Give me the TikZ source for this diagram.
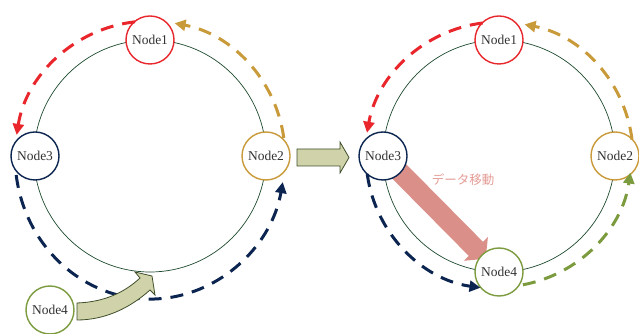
\documentclass[tikz,border=0pt]{standalone}
\usepackage{fontspec}
\setmainfont{Liberation Serif}
\newfontfamily\jpfont{Noto Sans CJK JP}
\usetikzlibrary{arrows.meta,calc}
\definecolor{cred}{HTML}{E8262B}
\definecolor{cgold}{HTML}{C99A3A}
\definecolor{cnavy}{HTML}{0B2550}
\definecolor{colive}{HTML}{7B9B3E}
\definecolor{cring}{HTML}{1E4A2E}
\definecolor{cblock}{HTML}{D0D3A9}
\definecolor{cblockedge}{HTML}{3F4F2C}
\definecolor{cpink}{HTML}{DA9089}
\definecolor{clabel}{HTML}{E39C96}
\begin{document}
\begin{tikzpicture}[x=1pt,y=1pt,
  ringnode/.style={circle,draw,fill=white,line width=1.4pt,minimum size=48pt,inner sep=0pt,
    font=\fontsize{13.5}{14}\selectfont,text=black!80},
  ringline/.style={draw=cring,line width=0.7pt},
  flow/.style={line width=3pt,dash pattern=on 13pt off 9pt,-{Triangle[length=11pt,width=11pt]}},
  blockarrow/.style={fill=cblock,draw=cblockedge,line width=0.8pt,line join=miter},
]
\useasboundingbox (0,0) rectangle (639,334);

% centres
\coordinate (C1) at (150,178);
\coordinate (C2) at (499,178);

% rings
\draw[ringline] (C1) circle[radius=116];
\draw[ringline] (C2) circle[radius=116];

% data move arrow (behind nodes)
\begin{scope}[shift={(383,179)},rotate=-45.3]
  \fill[cpink] (0,-10) -- (132,-10) -- (132,-17) -- (146,0) -- (132,17) -- (132,10) -- (0,10) -- cycle;
\end{scope}
\node[text=clabel,font=\jpfont\fontsize{12.5}{13}\selectfont] (lbl) at (463,154) {データ移動};

% left nodes
\node[ringnode,draw=cred]   (a1) at (150,294) {Node1};
\node[ringnode,draw=cgold]  (a2) at (266,178) {Node2};
\node[ringnode,draw=cnavy]  (a3) at (35,178)  {Node3};
\node[ringnode,draw=colive] (a4) at (50,24)   {Node4};

% right nodes
\node[ringnode,draw=cred]   (b1) at (499,294) {Node1};
\node[ringnode,draw=cgold]  (b2) at (615,178) {Node2};
\node[ringnode,draw=cnavy]  (b3) at (383,178) {Node3};
\node[ringnode,draw=colive] (b4) at (499,62)  {Node4};

% left flows
\draw[flow,cred]  (C1) ++(96.4:135) arc[start angle=96.4,end angle=171,radius=135];
\draw[flow,cgold] (C1) ++(7.7:135) arc[start angle=7.7,end angle=79.5,radius=135];
\draw[flow,cnavy] ($(C1)+(-133.8,-19)$) arc[start angle=187.6,end angle=349.5,x radius=135,y radius=143];

% right flows
\draw[flow,cred]   (C2) ++(97:134) arc[start angle=97,end angle=170,radius=134];
\draw[flow,cgold]  (C2) ++(7:134) arc[start angle=7,end angle=79,radius=134];
\draw[flow,cnavy]  (C2) ++(187.8:133) arc[start angle=187.8,end angle=262,radius=133];
\draw[flow,colive] (C2) ++(280.5:131) arc[start angle=280.5,end angle=352,radius=133];

% curved block arrow (node4 joining)
\draw[blockarrow] (77,31) .. controls (105,32) and (125,42) .. (140,56) -- (135,62) -- (152,58)
  -- (155,39) -- (150,44) .. controls (130,26) and (105,14) .. (77,14) -- cycle;

% middle block arrow
\draw[blockarrow] (297,168) -- (340,168) -- (340,161) -- (349,176.5) -- (340,192) -- (340,185) -- (297,185) -- cycle;
\end{tikzpicture}
\end{document}
